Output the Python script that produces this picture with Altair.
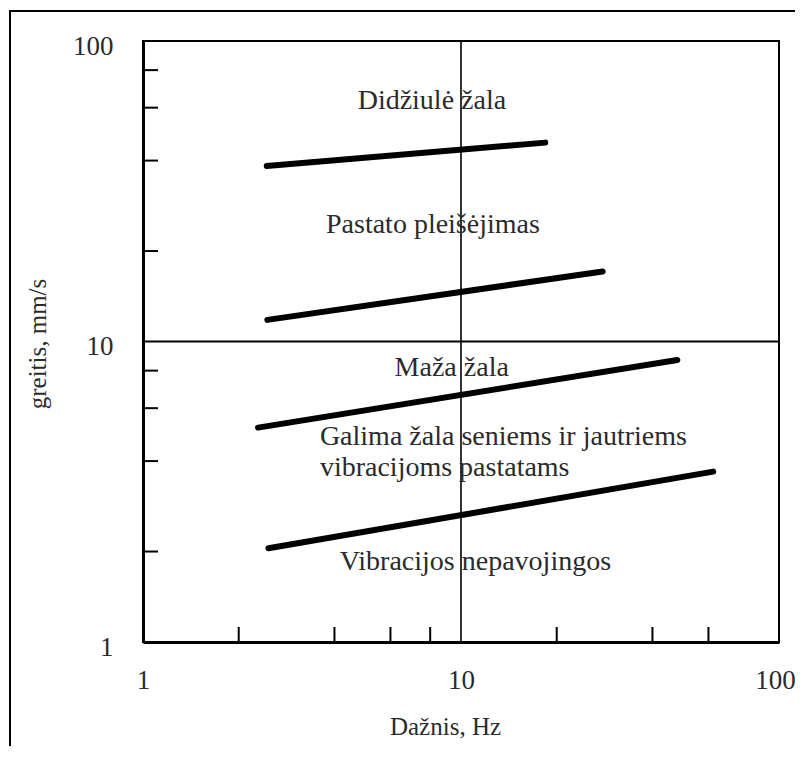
import altair as alt
import pandas as pd

# Boundary lines (log-log): start/end points per line
line_id = ["a", "a", "b", "b", "c", "c", "d", "d"]
line_x = [2.45, 18.4, 2.46, 27.9, 2.3, 47.9, 2.48, 62.1]
line_y = [38.4, 45.9, 11.8, 17.1, 5.17, 8.68, 2.05, 3.69]

# Region labels (centered)
label_text = ["Didžiulė žala", "Pastato pleišėjimas", "Maža žala", "Vibracijos nepavojingos"]
label_x = [8.1, 8.16, 9.35, 11.1]
label_y = [63.0, 24.4, 8.14, 1.85]

# Region labels (left aligned)
left_text = ["Galima žala seniems ir jautriems", "vibracijoms pastatams"]
left_x = [3.6, 3.6]
left_y = [4.82, 3.78]

# Axis ticks and labels
x_label_values = [1, 10, 100]
y_label_values = [1, 10, 100]
x_minor = [2, 4, 6, 8, 20, 40, 60]
y_minor = [2, 4, 6, 8, 20, 40, 60, 80]
grid_x = [10]
grid_y = [10]

W, H = 636, 601
FONT = "Liberation Serif"
TXT = "#2b2b2b"

xscale = alt.Scale(type="log", domain=[1, 100], nice=False)
yscale = alt.Scale(type="log", domain=[1, 100], nice=False)

xaxis = alt.Axis(values=x_label_values, format="d", title="Dažnis, Hz", grid=False,
                 ticks=False, labelPadding=25, labelFlush=False,
                 labelOffset={"condition": {"test": "datum.value == 100", "value": -4}, "value": 0},
                 labelOverlap=False, labelFont=FONT, labelFontSize=27, labelColor=TXT,
                 domain=True, domainColor="black", domainWidth=3,
                 titleFont=FONT, titleFontSize=25, titleFontWeight="normal", titleColor=TXT,
                 titleBaseline="alphabetic", titleY=92, titleX=302)
yaxis = alt.Axis(values=y_label_values, format="d", title="greitis, mm/s", grid=False,
                 ticks=False, labelPadding=30, labelFlush=False, labelOffset=5,
                 labelOverlap=False, labelFont=FONT, labelFontSize=27, labelColor=TXT,
                 domain=True, domainColor="black", domainWidth=3,
                 titleFont=FONT, titleFontSize=25, titleFontWeight="normal", titleColor=TXT,
                 titleBaseline="alphabetic", titleAngle=-90, titleX=-98, titleY=H / 2 + 2,
                 titleAlign="center")


def X(field="x"):
    return alt.X(f"{field}:Q", scale=xscale, axis=xaxis)


def Y(field="y"):
    return alt.Y(f"{field}:Q", scale=yscale, axis=yaxis)


lines_df = pd.DataFrame({"id": line_id, "x": line_x, "y": line_y})
lines = alt.Chart(lines_df).mark_line(color="black", strokeWidth=6, strokeCap="round").encode(
    x=X(), y=Y(), detail="id:N"
)

gx = alt.Chart(pd.DataFrame({"x": grid_x})).mark_rule(color="black", strokeWidth=1.6).encode(x=X())
gy = alt.Chart(pd.DataFrame({"y": grid_y})).mark_rule(color="black", strokeWidth=2.2).encode(y=Y())

xt = alt.Chart(pd.DataFrame({"x": x_minor})).mark_rule(color="black", strokeWidth=2).encode(
    x=X(), y=alt.value(H), y2=alt.value(H - 15)
)
yt = alt.Chart(pd.DataFrame({"y": y_minor})).mark_rule(color="black", strokeWidth=2).encode(
    y=Y(), x=alt.value(0), x2=alt.value(15)
)

lab_c = alt.Chart(pd.DataFrame({"x": label_x, "y": label_y, "t": label_text})).mark_text(
    font=FONT, fontSize=28, color=TXT, align="center", baseline="middle"
).encode(x=X(), y=Y(), text="t:N")

lab_l = alt.Chart(pd.DataFrame({"x": left_x, "y": left_y, "t": left_text})).mark_text(
    font=FONT, fontSize=28, color=TXT, align="left", baseline="middle"
).encode(x=X(), y=Y(), text="t:N")

# outer picture frame (top and left edges)
frame_top = alt.Chart(pd.DataFrame({"k": [0]})).mark_rule(color="black", strokeWidth=2).encode(
    x=alt.value(-134), x2=alt.value(W + 30), y=alt.value(-30)
)
frame_left = alt.Chart(pd.DataFrame({"k": [0]})).mark_rule(color="black", strokeWidth=2).encode(
    x=alt.value(-133), y=alt.value(-30), y2=alt.value(H + 120)
)

chart = alt.layer(gx, gy, xt, yt, lines, lab_c, lab_l, frame_top, frame_left).properties(
    width=W, height=H,
    autosize=alt.AutoSizeParams(type="none"),
    padding={"left": 135, "top": 33, "right": 16, "bottom": 104},
    background="white",
).configure_view(stroke="black", strokeWidth=2)

chart.save("out.html", embed_options={"renderer": "svg", "actions": False})
